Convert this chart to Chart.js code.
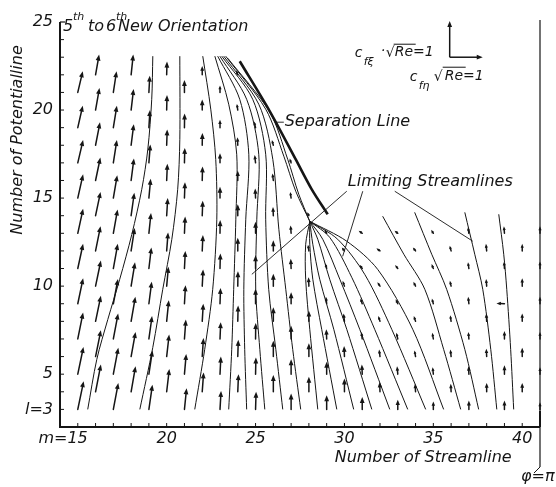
<!DOCTYPE html>
<html>
<head>
<meta charset="utf-8">
<script src="https://cdn.jsdelivr.net/npm/chart.js@4.4.1/dist/chart.umd.min.js"></script>
<style>
  html, body { margin: 0; padding: 0; background: #fff; }
  #wrap { width: 556px; height: 487px; }
</style>
</head>
<body>
<div id="wrap"><canvas id="field" width="556" height="487"></canvas></div>
<script>
// axis ranges (m = number of streamline, l = number of potentialline)
const M_RANGE = [14, 41];
const L_RANGE = [2, 25];
const M_LABELS = [15, 20, 25, 30, 35, 40];
const L_LABELS = [3, 5, 10, 15, 20, 25];

// skin friction vectors, one list per column m, rows start at ARROW_L0 and step by 2
const ARROW_M = [15, 16, 17, 18, 19, 20, 21, 22, 23, 24, 25, 26, 27, 28, 29, 30, 31, 32, 33, 34, 35, 36, 37, 38, 39, 40, 41];
const ARROW_L0 = [3, 4, 3, 4, 3, 4, 3, 4, 3, 4, 3, 4, 3, 4, 3, 4, 3, 4, 3, 4, 3, 4, 3, 4, 3, 4, 3];
const ARROW_VECTORS = [
    [[0.33, 1.6], [0.32, 1.55], [0.3, 1.5], [0.3, 1.45], [0.3, 1.4], [0.3, 1.4], [0.3, 1.35], [0.3, 1.3], [0.28, 1.25], [0.28, 1.2]],
    [[0.3, 1.55], [0.3, 1.5], [0.3, 1.45], [0.3, 1.45], [0.28, 1.4], [0.28, 1.35], [0.27, 1.3], [0.25, 1.3], [0.22, 1.25], [0.2, 1.15]],
    [[0.28, 1.5], [0.28, 1.5], [0.27, 1.45], [0.26, 1.4], [0.25, 1.4], [0.24, 1.35], [0.22, 1.3], [0.2, 1.3], [0.2, 1.25], [0.18, 1.2]],
    [[0.25, 1.45], [0.25, 1.4], [0.24, 1.4], [0.22, 1.35], [0.2, 1.3], [0.18, 1.3], [0.16, 1.25], [0.15, 1.2], [0.14, 1.2], [0.12, 1.15]],
    [[0.2, 1.4], [0.2, 1.35], [0.18, 1.3], [0.16, 1.25], [0.14, 1.2], [0.12, 1.15], [0.1, 1.1], [0.08, 1.05], [0.06, 1.0], [0.05, 0.95]],
    [[0.15, 1.3], [0.14, 1.25], [0.12, 1.2], [0.1, 1.1], [0.08, 1.05], [0.06, 1.0], [0.04, 0.95], [0.03, 0.9], [0.02, 0.85], [0.02, 0.75]],
    [[0.12, 1.2], [0.1, 1.15], [0.08, 1.1], [0.06, 1.05], [0.05, 1.0], [0.04, 0.95], [0.03, 0.9], [0.02, 0.85], [0.01, 0.8], [0.0, 0.7]],
    [[0.08, 1.1], [0.07, 1.05], [0.06, 1.0], [0.05, 0.95], [0.04, 0.9], [0.03, 0.85], [0.02, 0.8], [0.01, 0.7], [0.0, 0.6], [0.0, 0.5]],
    [[0.06, 1.05], [0.05, 1.0], [0.04, 0.95], [0.03, 0.9], [0.02, 0.85], [0.01, 0.75], [0.0, 0.65], [0.0, 0.55], [0.0, 0.45], [0.0, 0.4]],
    [[0.04, 1.0], [0.03, 0.95], [0.02, 0.9], [0.01, 0.85], [0.0, 0.75], [0.0, 0.65], [0.0, 0.55], [-0.02, 0.45], [-0.05, 0.35], [-0.1, 0.25]],
    [[0.03, 1.0], [0.02, 0.95], [0.01, 0.9], [0.0, 0.85], [0.0, 0.75], [0.0, 0.65], [-0.02, 0.55], [-0.05, 0.45], [-0.08, 0.35]],
    [[0.0, 0.95], [0.0, 0.9], [0.0, 0.8], [0.0, 0.7], [0.0, 0.6], [-0.02, 0.5], [-0.05, 0.4], [-0.08, 0.3]],
    [[0.0, 0.9], [0.0, 0.85], [0.0, 0.75], [0.0, 0.65], [-0.02, 0.55], [-0.03, 0.45], [-0.05, 0.35], [-0.08, 0.25]],
    [[0.0, 0.85], [0.0, 0.75], [0.0, 0.6], [-0.02, 0.5], [-0.05, 0.35], [-0.1, 0.2]],
    [[0.0, 0.8], [0.0, 0.7], [-0.02, 0.55], [-0.04, 0.4], [-0.08, 0.3], [-0.12, 0.2]],
    [[0.0, 0.75], [-0.02, 0.6], [-0.05, 0.45], [-0.1, 0.3], [-0.15, 0.2]],
    [[0.0, 0.7], [-0.02, 0.55], [-0.05, 0.4], [-0.1, 0.3], [-0.15, 0.22], [-0.2, 0.15]],
    [[-0.02, 0.55], [-0.05, 0.4], [-0.1, 0.3], [-0.15, 0.22], [-0.2, 0.15]],
    [[0.0, 0.55], [-0.04, 0.45], [-0.08, 0.35], [-0.12, 0.25], [-0.15, 0.2], [-0.18, 0.15]],
    [[-0.03, 0.45], [-0.06, 0.35], [-0.1, 0.3], [-0.12, 0.25], [-0.15, 0.2]],
    [[0.0, 0.45], [-0.04, 0.4], [-0.06, 0.35], [-0.08, 0.3], [-0.1, 0.25], [-0.12, 0.2]],
    [[-0.02, 0.45], [-0.04, 0.4], [-0.05, 0.35], [-0.07, 0.3], [-0.08, 0.3]],
    [[0.0, 0.5], [-0.02, 0.45], [-0.03, 0.4], [-0.04, 0.4], [-0.05, 0.35], [-0.05, 0.35]],
    [[0.0, 0.5], [-0.02, 0.45], [-0.02, 0.45], [-0.03, 0.4], [-0.04, 0.4]],
    [[0.0, 0.5], [0.0, 0.5], [0.0, 0.45], [-0.45, 0.02], [-0.02, 0.4], [-0.03, 0.4]],
    [[0.0, 0.5], [0.0, 0.5], [0.0, 0.45], [0.0, 0.45], [0.0, 0.4]],
    [[0.0, 0.4], [0.0, 0.4], [0.0, 0.4], [0.0, 0.4], [0.0, 0.4], [0.0, 0.4]]
];

// streamlines [m, l]
const LINE_A = [[15.56, 3], [16.07, 5.84], [16.69, 8.11], [17.36, 10.39], [18.04, 12.94], [18.6, 15.5], [18.94, 17.77], [19.16, 20.61], [19.22, 23.06]];
const LINE_B = [[18.49, 3], [19.22, 6.52], [19.78, 9.82], [20.29, 12.66], [20.62, 15.5], [20.74, 18.34], [20.74, 23.06]];
const LINE_C = [[21.58, 3], [22.14, 6.41], [22.59, 9.82], [22.82, 13.8], [22.76, 17.2], [22.48, 20.05], [22.03, 23.06]];
const LINE_D = [[23.49, 3], [23.66, 6.41], [23.77, 9.82], [23.89, 13.8], [23.94, 17.49], [23.49, 20.33], [22.71, 23.06]];
const LINE_E = [[24.5, 3], [24.39, 6.41], [24.34, 9.82], [24.45, 13.8], [24.62, 17.49], [24.11, 20.61], [22.87, 23.06]];
const LINE_F = [[25.52, 3], [25.24, 6.41], [25.01, 9.82], [25.07, 13.8], [25.18, 17.49], [24.5, 20.61], [22.99, 23.06]];
const LINE_G = [[26.53, 3], [26.14, 6.41], [25.74, 9.82], [25.57, 13.8], [25.57, 17.49], [24.84, 20.61], [23.1, 23.06]];
const LINE_H = [[27.54, 3], [27.09, 6.41], [26.7, 9.82], [26.31, 13.23], [25.97, 17.2], [25.18, 20.33], [23.21, 23.06]];
const LINE_U1 = [[28.05, 13.68], [27.26, 15.39], [26.59, 17.38], [25.57, 20.05], [23.32, 23.06]];
const LINE_U2 = [[28.05, 13.68], [27.43, 15.22], [26.81, 17.2], [25.8, 19.88], [23.44, 22.94]];
const FAN_1 = [[28.5, 3], [28.05, 7.55], [27.82, 10.39], [27.82, 12.38], [28.05, 13.68]];
const FAN_2 = [[29.57, 3], [28.72, 7.55], [28.22, 10.39], [28.05, 12.38], [28.05, 13.68]];
const FAN_3 = [[30.52, 3], [29.4, 7.55], [28.61, 10.39], [28.22, 12.38], [28.05, 13.68]];
const FAN_4 = [[31.54, 3], [30.13, 7.55], [29.17, 10.39], [28.5, 12.66], [28.05, 13.68]];
const FAN_5 = [[32.55, 3], [30.86, 7.55], [29.74, 10.39], [28.78, 12.66], [28.05, 13.68]];
const FAN_6 = [[33.56, 3], [31.7, 7.55], [30.41, 10.5], [29.17, 12.77], [28.05, 13.68]];
const FAN_7 = [[34.57, 3], [32.66, 7.55], [31.14, 10.67], [29.62, 12.66], [28.05, 13.68]];
const FAN_8 = [[35.58, 3], [33.84, 7.55], [31.87, 10.95], [30.13, 12.55], [28.05, 13.68]];
const RIGHT_1 = [[32.15, 13.97], [33.34, 11.81], [34.52, 9.82], [35.58, 6.41], [36.54, 3]];
const RIGHT_2 = [[33.95, 14.19], [34.91, 11.81], [35.75, 9.82], [36.77, 6.41], [37.55, 3]];
const RIGHT_3 = [[36.77, 14.19], [37.33, 11.81], [37.78, 9.82], [38.23, 6.41], [38.57, 3]];
const RIGHT_4 = [[38.68, 14.08], [38.96, 11.81], [39.13, 9.82], [39.35, 6.41], [39.52, 3]];
const STREAMLINES = [LINE_A, LINE_B, LINE_C, LINE_D, LINE_E, LINE_F, LINE_G, LINE_H, LINE_U1, LINE_U2,
    FAN_1, FAN_2, FAN_3, FAN_4, FAN_5, FAN_6, FAN_7, FAN_8, RIGHT_1, RIGHT_2, RIGHT_3, RIGHT_4];

const SEPARATION = [[24.11, 22.77], [25.8, 19.93], [27.26, 17.2], [28.16, 15.5], [29.06, 14.08]];

// leader lines of the labels
const LEADERS = [
    [[30.13, 15.39], [24.79, 10.67]],
    [[31.03, 15.39], [29.9, 11.69]],
    [[32.83, 15.39], [37.22, 12.55]],
    [[26.08, 19.31], [26.59, 19.31]]
];

const INK = "#151515";
const FONT = '"DejaVu Sans", sans-serif';

function toXY(pts) {
    return pts.map(([m, l]) => ({ x: m, y: l }));
}

function arrow(ctx, x0, y0, x1, y1) {
    const dx = x1 - x0, dy = y1 - y0;
    const len = Math.hypot(dx, dy);
    if (len < 0.5) return;
    const ux = dx / len, uy = dy / len;
    const head = Math.min(6, Math.max(3.4, len * 0.55));
    const half = head * 0.4;
    const bx = x1 - ux * head, by = y1 - uy * head;
    ctx.lineWidth = 1.5;
    ctx.beginPath();
    ctx.moveTo(x0, y0);
    ctx.lineTo(bx + ux, by + uy);
    ctx.stroke();
    ctx.beginPath();
    ctx.moveTo(x1, y1);
    ctx.lineTo(bx - uy * half, by + ux * half);
    ctx.lineTo(bx + uy * half, by - ux * half);
    ctx.closePath();
    ctx.fill();
}

function line(ctx, x0, y0, x1, y1, w) {
    ctx.lineWidth = w;
    ctx.beginPath();
    ctx.moveTo(x0, y0);
    ctx.lineTo(x1, y1);
    ctx.stroke();
}

const fieldPlugin = {
    id: "field",
    afterDatasetsDraw(chart) {
        const { ctx, chartArea: a } = chart;
        const px = (v) => chart.scales.x.getPixelForValue(v);
        const py = (v) => chart.scales.y.getPixelForValue(v);
        ctx.save();
        ctx.fillStyle = INK;
        ctx.strokeStyle = INK;
        ctx.lineCap = "round";

        // vector field
        ARROW_M.forEach((m, i) => {
            ARROW_VECTORS[i].forEach(([dm, dl], k) => {
                const l = ARROW_L0[i] + 2 * k;
                arrow(ctx, px(m), py(l), px(m + dm), py(l + dl));
            });
        });

        // frame
        ctx.lineCap = "butt";
        line(ctx, a.left, a.top, a.left, a.bottom + 1, 2);
        line(ctx, a.left - 1, a.bottom, a.right, a.bottom, 2);
        line(ctx, a.left, a.top, a.left + 5, a.top, 1.2);
        line(ctx, a.right, a.top - 2, a.right, a.bottom + 40, 1.2);
        line(ctx, a.right, a.bottom - 16, a.right, a.bottom, 2);
        line(ctx, a.right, a.bottom + 40, a.right - 6, a.bottom + 46, 1);

        for (let l = 3; l < L_RANGE[1]; l++) line(ctx, a.left, py(l), a.left + 4, py(l), 1);
        for (let m = 15; m <= 40; m++) line(ctx, px(m), a.bottom, px(m), a.bottom - 4, 1);

        // tick labels
        ctx.font = "italic 16px " + FONT;
        ctx.textBaseline = "middle";
        ctx.textAlign = "right";
        L_LABELS.forEach((l) => {
            ctx.fillText(l === 3 ? "l=3" : String(l), a.left - 7, py(l));
        });
        ctx.textBaseline = "top";
        M_LABELS.forEach((m) => {
            if (m === 15) {
                ctx.textAlign = "right";
                ctx.fillText("m=15", px(m) + 10, a.bottom + 4);
            } else {
                ctx.textAlign = "center";
                ctx.fillText(String(m), px(m), a.bottom + 4);
            }
        });

        // axis titles
        ctx.textAlign = "left";
        ctx.textBaseline = "middle";
        ctx.fillText("Number of Streamline", px(29.45), a.bottom + 31);
        ctx.fillText("\u03c6=\u03c0", a.right - 19, a.bottom + 50);
        ctx.save();
        ctx.translate(a.left - 42, py(18.3));
        ctx.rotate(-Math.PI / 2);
        ctx.textAlign = "center";
        ctx.fillText("Number of Potentialline", 0, 0);
        ctx.restore();

        // title
        ctx.textBaseline = "alphabetic";
        ctx.textAlign = "left";
        const tx = a.left + 3, ty = a.top + 9;
        ctx.fillText("5", tx, ty);
        ctx.fillText("to", tx + 25, ty);
        ctx.fillText("6", tx + 43, ty);
        ctx.fillText("New Orientation", tx + 55, ty);
        ctx.font = "italic 11px " + FONT;
        ctx.fillText("th", tx + 10, ty - 11);
        ctx.fillText("th", tx + 53, ty - 11);

        // labels
        ctx.font = "italic 16px " + FONT;
        ctx.textBaseline = "middle";
        ctx.fillText("Separation Line", px(26.64), py(19.31));
        ctx.fillText("Limiting Streamlines", px(30.19), py(15.9));

        // unit vectors
        const cx = px(35.92), cy = py(23);
        arrow(ctx, cx, cy, cx, py(25.05));
        arrow(ctx, cx, cy, px(37.78), cy);
        ctx.textBaseline = "alphabetic";
        ctx.font = "italic 14px " + FONT;
        ctx.fillText("c", cx - 95, cy);
        ctx.fillText("\u00b7", cx - 69, cy - 2);
        ctx.fillText("\u221a", cx - 64, cy);
        ctx.fillText("Re=1", cx - 55, cy - 1);
        ctx.fillText("c", cx - 40, cy + 24);
        ctx.fillText("\u221a", cx - 16, cy + 24);
        ctx.fillText("Re=1", cx - 5, cy + 23);
        ctx.font = "italic 11px " + FONT;
        ctx.fillText("f\u03be", cx - 86, cy + 8);
        ctx.fillText("f\u03b7", cx - 31, cy + 32);
        line(ctx, cx - 56, cy - 13, cx - 34, cy - 13, 1);
        line(ctx, cx - 7, cy + 10, cx + 16, cy + 10, 1);
        ctx.restore();
    }
};

const datasets = [];
STREAMLINES.forEach((pts) => {
    datasets.push({ data: toXY(pts), showLine: true, tension: 0.3, borderWidth: 1, borderColor: INK, pointRadius: 0 });
});
datasets.push({ data: toXY(SEPARATION), showLine: true, tension: 0.3, borderWidth: 2.6, borderColor: INK, pointRadius: 0 });
LEADERS.forEach((pts) => {
    datasets.push({ data: toXY(pts), showLine: true, tension: 0, borderWidth: 0.9, borderColor: INK, pointRadius: 0 });
});

new Chart(document.getElementById("field"), {
    type: "scatter",
    data: { datasets: datasets },
    options: {
        responsive: false,
        animation: false,
        layout: { padding: { left: 60, right: 16, top: 22, bottom: 60 } },
        plugins: { legend: { display: false }, tooltip: { enabled: false } },
        scales: {
            x: { type: "linear", min: M_RANGE[0], max: M_RANGE[1], display: false },
            y: { type: "linear", min: L_RANGE[0], max: L_RANGE[1], display: false }
        }
    },
    plugins: [fieldPlugin]
});
</script>
</body>
</html>
